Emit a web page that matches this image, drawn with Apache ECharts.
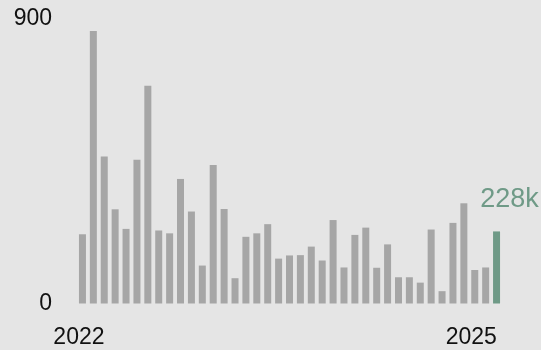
<!DOCTYPE html>
<html>
<head>
<meta charset="utf-8">
<style>
  html, body { margin: 0; padding: 0; background: #e5e5e5; }
  #chart { width: 541px; height: 350px; }
</style>
<script src="https://cdn.jsdelivr.net/npm/echarts@6/dist/echarts.min.js"></script>
</head>
<body>
<div id="chart"></div>
<script>
// Monthly totals (thousands), Jan 2022 – Mar 2025
const months = [
  '2022-01','2022-02','2022-03','2022-04','2022-05','2022-06','2022-07','2022-08','2022-09','2022-10','2022-11','2022-12',
  '2023-01','2023-02','2023-03','2023-04','2023-05','2023-06','2023-07','2023-08','2023-09','2023-10','2023-11','2023-12',
  '2024-01','2024-02','2024-03','2024-04','2024-05','2024-06','2024-07','2024-08','2024-09','2024-10','2024-11','2024-12',
  '2025-01','2025-02','2025-03'
];
const values = [
  219, 862, 465, 298, 236, 455, 689, 231, 222, 394, 291, 120,
  438, 299, 80, 211, 222, 251, 142, 152, 153, 180, 136, 264,
  114, 217, 240, 113, 187, 83, 83, 66, 234, 39, 255, 317,
  106, 114, 228
];
const yTicks = [0, 900];
const yearLabels = { '2022-01': '2022', '2025-01': '2025' };
const lastLabel = '228k';

const GRAY = '#a6a6a6';
const GREEN = '#6f9a87';
const FONT = 'Liberation Sans';

const chart = echarts.init(document.getElementById('chart'), null, { renderer: 'canvas' });

const barData = values.map((v, i) => {
  if (i === values.length - 1) {
    return {
      value: v,
      itemStyle: { color: GREEN },
      label: {
        show: true,
        position: 'top',
        formatter: lastLabel,
        color: GREEN,
        fontFamily: FONT,
        fontSize: 27,
        offset: [13, -13]
      }
    };
  }
  return v;
});

chart.setOption({
  backgroundColor: '#e5e5e5',
  animation: false,
  grid: { left: 77, right: 39, top: 19, bottom: 46.5 },
  xAxis: {
    type: 'category',
    data: months,
    boundaryGap: true,
    axisLine: { show: false },
    axisTick: { show: false },
    axisLabel: {
      interval: 0,
      formatter: m => yearLabels[m] || '',
      color: '#111',
      fontFamily: FONT,
      fontSize: 23,
      margin: 23,
      padding: [0, 7, 0, 0]
    }
  },
  yAxis: {
    type: 'value',
    min: yTicks[0],
    max: yTicks[1],
    interval: yTicks[1] - yTicks[0],
    splitLine: { show: false },
    axisLine: { show: false },
    axisTick: { show: false },
    axisLabel: {
      color: '#111',
      fontFamily: FONT,
      fontSize: 23,
      margin: 25
    }
  },
  series: [{
    type: 'bar',
    data: barData,
    barWidth: 7,
    itemStyle: { color: GRAY }
  }]
});
</script>
</body>
</html>
